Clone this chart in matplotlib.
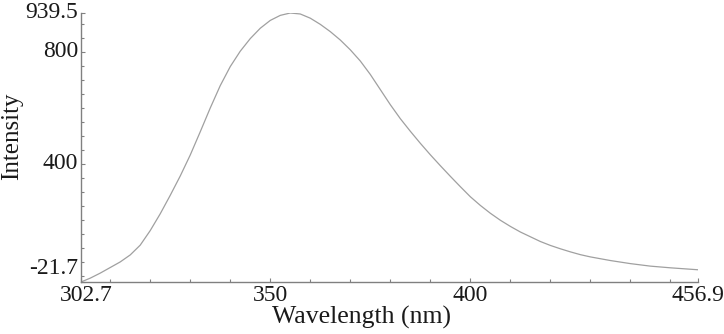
import matplotlib
matplotlib.use("Agg")
import matplotlib.pyplot as plt
from matplotlib.ticker import FixedLocator, MultipleLocator
import matplotlib.transforms as mtransforms

wavelength = [302.7, 305, 307.5, 310, 312.5, 315, 317.5, 320, 322.5, 325, 327.5,
              330, 332.5, 335, 337.5, 340, 342.5, 345, 347.5, 350, 352.5, 355,
              357.5, 360, 362.5, 365, 367.5, 370, 372.5, 375, 377.5, 380, 382.5,
              385, 387.5, 390, 392.5, 395, 397.5, 400, 402.5, 405, 407.5, 410,
              412.5, 415, 417.5, 420, 422.5, 425, 427.5, 430, 435, 440, 445, 450,
              456.9]
intensity = [-21.7, -8, 10, 30, 50, 75, 110, 162, 222, 288, 357,
             432, 515, 600, 680, 748, 803, 848, 885, 913, 931, 939.5,
             936, 921, 899, 873, 843, 808, 768, 720, 666, 612, 562,
             517, 474, 433, 394, 356, 319, 283, 252, 224, 199, 177,
             157, 140, 123, 109, 97, 86, 76, 68, 55, 44, 35, 29,
             22]

xticks = [302.7, 350, 400, 456.9]
xticklabels = ["302.7", "350", "400", "456.9"]
yticks = [-21.7, 400, 800, 939.5]
yticklabels = ["-21.7", "400", "800", "939.5"]

plt.rcParams['font.family'] = ['Liberation Serif', 'DejaVu Serif']

fig = plt.figure(figsize=(7.24, 3.34), dpi=100)
ax = fig.add_axes([81/724, 52/334, 617/724, 269/334])

ax.plot(wavelength, intensity, color="#a0a0a0", lw=0.9)

ax.set_xlim(302.7, 456.9)
ax.set_ylim(-21.7, 939.5)

for s in ["top", "right"]:
    ax.spines[s].set_visible(False)
for s in ["left", "bottom"]:
    ax.spines[s].set_color("#808080")
    ax.spines[s].set_linewidth(1.0)

ax.xaxis.set_major_locator(FixedLocator(xticks))
ax.set_xticklabels(xticklabels)
ax.yaxis.set_major_locator(FixedLocator(yticks))
ax.set_yticklabels(yticklabels)
ax.xaxis.set_minor_locator(MultipleLocator(10))
ax.yaxis.set_minor_locator(MultipleLocator(50))

ax.tick_params(which="both", direction="in", color="#808080", width=0.8,
               labelsize=17, labelcolor="#1a1a1a")
ax.tick_params(which="major", length=3, pad=2)
ax.tick_params(which="minor", length=2.5)

# nudge labels as in the reference
xl = ax.get_xticklabels()
xl[0].set_transform(xl[0].get_transform() +
                    mtransforms.ScaledTranslation(5/100, 0, fig.dpi_scale_trans))
for lab in ax.get_yticklabels():
    lab.set_transform(lab.get_transform() +
                      mtransforms.ScaledTranslation(0, 3/100, fig.dpi_scale_trans))
yl = ax.get_yticklabels()
yl[0].set_va("bottom")

fig.text(361/724, 1 - 317/334, "Wavelength (nm)", ha="center", va="center",
         fontsize=18.5, color="#1a1a1a")
fig.text(12/724, 1 - 136/334, "Intensity", ha="center", va="center",
         rotation=90, fontsize=18, color="#1a1a1a")

fig.savefig("out.png", dpi=100)
